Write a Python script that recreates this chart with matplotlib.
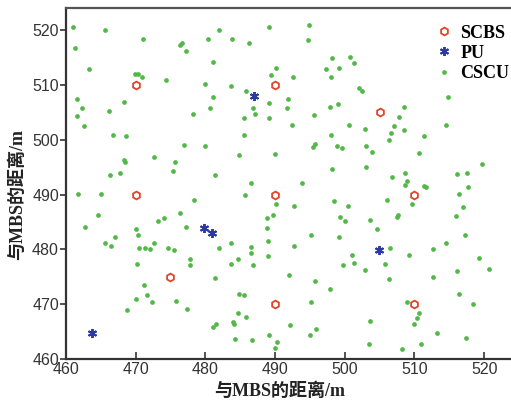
import matplotlib
matplotlib.use("Agg")
import matplotlib.pyplot as plt

# Small-cell base stations (SCBS)
scbs_x = [470, 490, 505, 470, 490, 510, 475, 490, 510]
scbs_y = [510, 510, 505, 490, 490, 490, 475, 470, 470]

# Primary users (PU)
pu_x = [487.0, 479.8, 480.9, 504.9, 463.7]
pu_y = [508.0, 483.9, 482.9, 479.9, 464.8]

# Cognitive small-cell users (CSCU)
cscu_x = [
    461.0, 465.6, 461.3, 471.1, 476.4, 477.2, 480.4, 481.9, 483.8, 486.2,
    489.2, 481.1, 463.3, 469.9, 470.3, 470.9, 474.4, 479.9, 483.7, 485.9,
    489.4, 490.1, 461.6, 462.3, 461.6, 462.6, 466.2, 468.3, 481.1, 480.7,
    478.2, 486.8, 487.1, 485.6, 489.2, 489.1, 491.9, 491.7, 466.8, 468.6,
    485.6, 476.9, 480.0, 472.6, 475.6, 468.3, 468.5, 484.9, 490.0, 466.3,
    467.7, 475.3, 481.4, 476.6,
    486.5, 461.8, 465.1, 478.4, 485.7, 490.1, 464.6, 462.7, 467.0, 465.6,
    466.5, 470.0, 470.4, 473.2, 474.1, 476.4, 477.2, 470.5, 471.4, 472.1,
    472.6, 474.6, 475.5, 477.8, 477.8, 470.2, 481.9, 483.7, 486.5, 486.6,
    484.7, 483.7, 486.8, 488.9, 489.7, 488.8, 489.0, 489.0, 492.0, 481.4,
    471.2, 471.6, 470.0, 472.4, 475.8, 468.7, 477.4, 484.8, 485.6, 484.7,
    485.8, 484.0, 484.1, 481.6, 481.1, 489.2, 490.3, 484.3, 486.7, 490.0,
    495.0, 503.5, 508.2, 511.0, 513.2, 517.4,
    494.9, 494.8, 498.2, 500.8, 501.4, 497.3, 499.2, 498.1, 492.6, 502.1,
    502.5, 497.9, 499.1, 495.6, 492.5, 500.6, 498.0, 502.9, 508.5, 507.8,
    507.0, 508.5, 506.7, 506.3, 511.4, 514.8, 514.5, 495.5, 495.8, 498.9,
    499.6, 503.0, 503.9, 510.7, 498.2, 503.0, 506.8, 508.6, 516.1, 517.6,
    519.7,
    493.8, 508.9, 508.6, 511.4, 511.6, 517.7, 516.4, 492.7, 498.5, 500.4,
    506.0, 509.6, 517.0, 516.0, 499.3, 500.1, 503.6, 507.5, 507.6, 504.7,
    495.2, 499.2, 517.2, 492.7, 506.5, 501.1, 501.4, 499.7, 502.9, 505.8,
    509.2, 512.6, 514.5, 519.3, 520.7, 516.1, 512.7, 506.3, 495.8, 497.9,
    495.2, 516.4, 518.4, 508.9, 510.7, 510.4, 510.0, 503.6, 492.2, 495.9,
]
cscu_y = [
    520.6, 520.0, 516.8, 518.5, 517.4, 516.2, 518.5, 520.0, 518.5, 517.7,
    520.6, 514.3, 512.9, 512.0, 512.1, 511.4, 511.0, 510.2, 509.9, 509.0,
    511.8, 513.1, 507.4, 505.8, 504.4, 502.6, 505.3, 507.0, 507.9, 505.8,
    504.7, 505.9, 504.8, 504.0, 506.7, 504.0, 507.4, 505.9, 500.9, 500.7,
    500.8, 499.1, 498.9, 496.9, 496.0, 496.3, 496.0, 497.2, 497.5, 493.5,
    494.0, 494.3, 493.5, 517.7,
    492.2, 490.1, 490.1, 489.1, 489.9, 488.2, 486.3, 484.0, 482.3, 481.1,
    480.7, 483.7, 482.7, 485.2, 485.7, 486.6, 484.0, 480.3, 480.3, 480.0,
    481.1, 480.3, 479.8, 478.2, 477.2, 477.3, 480.3, 481.1, 480.4, 479.3,
    478.2, 477.3, 477.2, 485.7, 486.3, 483.9, 481.6, 478.7, 475.3, 474.8,
    473.5, 471.7, 470.9, 470.3, 470.6, 468.9, 469.1, 471.9, 471.6, 468.4,
    467.6, 466.7, 466.3, 466.4, 465.8, 464.4, 463.0, 463.6, 463.5, 462.0,
    464.4, 462.8, 461.8, 462.8, 464.7, 463.9,
    521.0, 518.3, 514.9, 515.1, 514.1, 513.0, 513.1, 511.5, 511.5, 509.4,
    509.0, 506.0, 506.5, 504.5, 502.7, 502.7, 500.9, 502.0, 506.0, 504.1,
    502.6, 501.8, 501.2, 500.0, 500.7, 507.8, 502.8, 498.7, 499.2, 498.9,
    498.6, 498.9, 497.7, 497.6, 494.7, 495.1, 493.3, 494.0, 493.7, 493.9,
    495.6,
    492.2, 492.5, 491.8, 491.6, 491.3, 491.3, 490.1, 488.0, 488.8, 488.0,
    489.1, 488.2, 487.7, 486.1, 485.9, 485.2, 485.4, 486.0, 486.3, 483.7,
    482.7, 482.2, 482.7, 480.7, 480.3, 478.9, 477.6, 477.2, 476.2, 477.3,
    479.0, 480.0, 481.1, 478.5, 476.4, 476.1, 475.0, 474.5, 474.3, 472.7,
    470.3, 471.9, 470.0, 470.3, 468.4, 467.4, 466.4, 466.9, 466.1, 465.5,
]

x_ticks = [460, 470, 480, 490, 500, 510, 520]
y_ticks = [460, 470, 480, 490, 500, 510, 520]
axis_label = "与MBS的距离/m"
series_names = ["SCBS", "PU", "CSCU"]

label_font = ["Liberation Serif", "Noto Sans CJK SC", "DejaVu Sans"]

fig = plt.figure(figsize=(5.11, 4.01), dpi=100)
ax = fig.add_axes([0.129, 0.105, 0.873, 0.874])

ax.plot(cscu_x, cscu_y, linestyle="none", marker="o", markersize=3.4,
        color="#52b848", markeredgewidth=0, label=series_names[2], zorder=2)
ax.plot(scbs_x, scbs_y, linestyle="none", marker="h", markersize=5.6,
        markerfacecolor="none", markeredgecolor="#e0452a", markeredgewidth=1.3,
        label=series_names[0], zorder=3)
ax.plot(pu_x, pu_y, linestyle="none", marker=(6, 2, 0), markersize=6.5,
        color="#2a3aa0", markeredgewidth=1.4, label=series_names[1], zorder=3)

ax.set_xlim(460, 524)
ax.set_ylim(460, 524)
ax.set_xticks(x_ticks)
ax.set_yticks(y_ticks)

for s in ["left", "bottom"]:
    ax.spines[s].set_linewidth(1.6)
    ax.spines[s].set_color("#333333")
ax.spines["top"].set_linewidth(1.6)
ax.spines["top"].set_color("#555555")
ax.spines["right"].set_visible(False)

ax.tick_params(axis="y", direction="out", length=4, width=1.2,
               labelsize=11.5, colors="#333333", pad=1)
ax.tick_params(axis="x", direction="in", length=5, width=1.2,
               labelsize=11.5, colors="#333333", pad=2)
for lbl in ax.get_xticklabels() + ax.get_yticklabels():
    lbl.set_family(["Liberation Sans", "DejaVu Sans"])
    lbl.set_color("#333333")

ax.set_xlabel(axis_label, family=label_font, fontweight="bold",
              fontsize=13, color="#222222")
ax.set_ylabel(axis_label, family=label_font, fontweight="bold",
              fontsize=13, color="#222222")
ax.xaxis.set_label_coords(0.478, -0.066)
ax.yaxis.set_label_coords(-0.09, 0.47)

handles, labels = ax.get_legend_handles_labels()
order = [1, 2, 0]
leg = ax.legend([handles[i] for i in order], [labels[i] for i in order],
                loc="upper right", frameon=False, handlelength=0.8,
                handletextpad=0.5, labelspacing=0.18,
                borderaxespad=0.3, bbox_to_anchor=(1.022, 0.99),
                prop={"family": "Liberation Serif", "weight": "bold",
                      "size": 13})

fig.savefig("out.png", dpi=100)
